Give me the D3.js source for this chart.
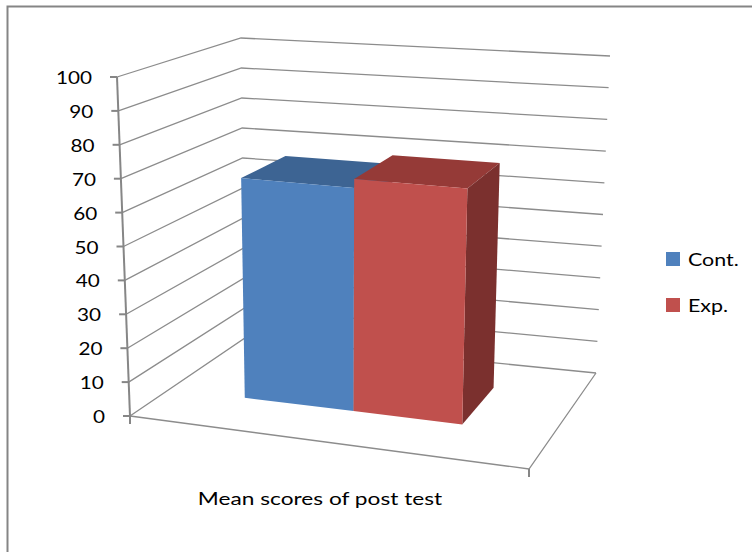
<!DOCTYPE html>
<html>
<head>
<meta charset="utf-8">
<script src="https://cdn.jsdelivr.net/npm/d3@7/dist/d3.min.js"></script>
<style>
  html, body { margin: 0; padding: 0; background: #fff; }
  svg { display: block; }
  text { font-family: Lato, "Open Sans", sans-serif; fill: #000; }
</style>
</head>
<body>
<script>
// Chart data
const categories = ["Mean scores of post test"];
const series = ["Cont.", "Exp."];
const values = [66.8, 69.5];
const yTicks = [0, 10, 20, 30, 40, 50, 60, 70, 80, 90, 100];

const frontColors = ["#4F81BD", "#C0504D"];
const topColors   = ["#3D6493", "#953A37"];
const sideColors  = ["#3A5F8C", "#7B302E"];

const W = 752, H = 552;
const svg = d3.select("body").append("svg").attr("width", W).attr("height", H);

// 3D box: x across (0 left .. 1 right), z depth (0 front .. 1 back), value up.
// Screen corners of the plot box at the bottom (value 0) and top (value 100).
const floorC = { fl: [130, 416], bl: [245, 338], br: [596, 373], fr: [529, 469] };
const topC   = { fl: [117, 77],  bl: [241, 38],  br: [610, 56],  fr: [541, 111] };

const y = d3.scaleLinear().domain([0, 100]).range([0, 1]);
const xBand = d3.scaleBand().domain(series).range([0.195, 0.764]).paddingInner(0);
const zBar = [0.35, 0.75];

function bil(c, x, z) {
  const w = [(1 - x) * (1 - z), (1 - x) * z, x * z, x * (1 - z)];
  const p = [c.fl, c.bl, c.br, c.fr];
  return [0, 1].map(k => w[0] * p[0][k] + w[1] * p[1][k] + w[2] * p[2][k] + w[3] * p[3][k]);
}
function proj(x, z, v) {
  const a = bil(floorC, x, z), b = bil(topC, x, z), t = y(v);
  return [a[0] + (b[0] - a[0]) * t, a[1] + (b[1] - a[1]) * t];
}
const poly = d3.line();

const gridColor = "#8C8C8C";
const grid = svg.append("g").attr("fill", "none").attr("stroke", gridColor).attr("stroke-width", 1.3);

// Back wall and left wall gridlines
yTicks.forEach(v => {
  grid.append("path").attr("d", poly([proj(0, 0, v), proj(0, 1, v), proj(1, 1, v)]));
});
// Floor outline (front and right edges)
grid.append("path").attr("d", poly([proj(0, 0, 0), proj(1, 0, 0), proj(1, 1, 0)]));

// Category ticks at the front corners of the floor
const axis = svg.append("g").attr("stroke", "#868686").attr("stroke-width", 2).attr("fill", "none");
[0, 1].forEach(x => {
  const p = proj(x, 0, 0);
  axis.append("line").attr("x1", p[0]).attr("y1", p[1]).attr("x2", p[0]).attr("y2", p[1] + 8);
});

// Value axis line, ticks and labels
const a0 = proj(0, 0, 0), a1 = proj(0, 0, 100);
axis.append("line").attr("x1", a0[0]).attr("y1", a0[1]).attr("x2", a1[0]).attr("y2", a1[1]);
yTicks.forEach(v => {
  const p = proj(0, 0, v);
  axis.append("line").attr("x1", p[0] - 7).attr("y1", p[1]).attr("x2", p[0]).attr("y2", p[1]);
  svg.append("text")
    .attr("transform", `translate(${p[0] - 25},${p[1] + 7}) scale(1.15,1)`)
    .attr("text-anchor", "end")
    .attr("font-size", 18)
    .text(v);
});

// Bars: top, right side, front
series.forEach((s, i) => {
  const x0 = xBand(s), x1 = x0 + xBand.bandwidth(), v = values[i];
  const [zf, zb] = zBar;
  const g = svg.append("g").attr("stroke", "none");
  g.append("path").attr("fill", topColors[i])
    .attr("d", poly([proj(x0, zf, v), proj(x0, zb, v), proj(x1, zb, v), proj(x1, zf, v)]) + "Z");
  g.append("path").attr("fill", sideColors[i])
    .attr("d", poly([proj(x1, zf, 0), proj(x1, zb, 0), proj(x1, zb, v), proj(x1, zf, v)]) + "Z");
  g.append("path").attr("fill", frontColors[i])
    .attr("d", poly([proj(x0, zf, 0), proj(x1, zf, 0), proj(x1, zf, v), proj(x0, zf, v)]) + "Z");
});

// Category axis title
svg.append("text")
  .attr("transform", "translate(320,505) scale(1.26,1)")
  .attr("text-anchor", "middle")
  .attr("font-size", 18)
  .text(categories[0]);

// Legend
const legend = svg.append("g");
series.forEach((s, i) => {
  const ly = 252 + i * 46;
  legend.append("rect").attr("x", 666).attr("y", ly).attr("width", 14).attr("height", 14).attr("fill", frontColors[i]);
  legend.append("text")
    .attr("transform", `translate(688,${ly + 14}) scale(1.19,1)`)
    .attr("font-size", 18)
    .text(s);
});

// Outer frame (top and left edges)
svg.append("path")
  .attr("d", "M7.5,552 L7.5,6.5 L752,6.5")
  .attr("fill", "none").attr("stroke", "#858585").attr("stroke-width", 2);
</script>
</body>
</html>
